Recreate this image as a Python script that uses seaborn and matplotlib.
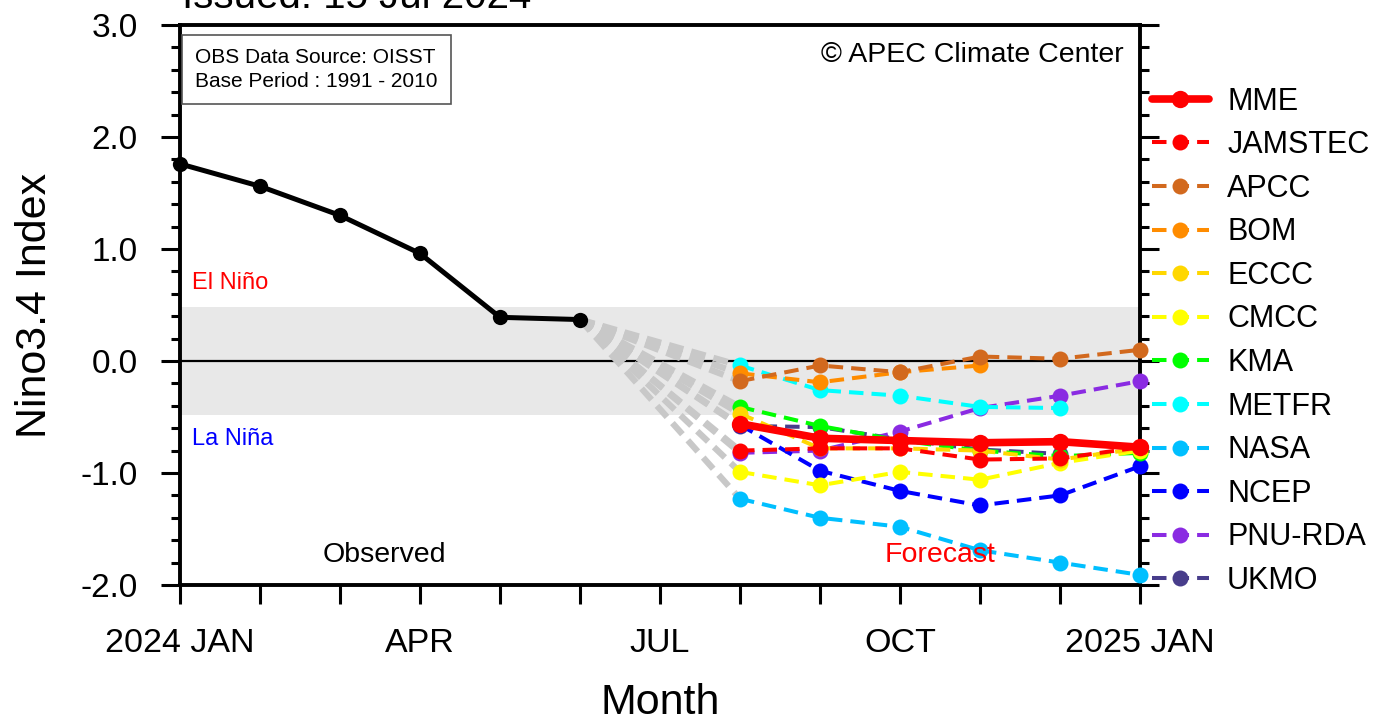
import pandas as pd
import matplotlib
matplotlib.use("Agg")
import matplotlib.pyplot as plt
import seaborn as sns

# months counted from 2024 JAN (0) to 2025 JAN (12)
month_ticks = list(range(13))
month_labels = ["2024 JAN", "", "", "APR", "", "", "JUL", "", "", "OCT", "", "", "2025 JAN"]

obs_x = [0, 1, 2, 3, 4, 5]
obs_vals = [1.76, 1.56, 1.30, 0.96, 0.39, 0.37]

fc_x = [7, 8, 9, 10, 11, 12]

models = ["MME", "JAMSTEC", "APCC", "BOM", "ECCC", "CMCC", "KMA", "METFR",
          "NASA", "NCEP", "PNU-RDA", "UKMO"]
colors = ["#FF0000", "#FF0000", "#D2691E", "#FF8C00", "#FFD700", "#FFFF00",
          "#00FF00", "#00FFFF", "#00BFFF", "#0000FF", "#8A2BE2", "#483D8B"]

MME = [-0.56, -0.69, -0.71, -0.73, -0.72, -0.77]
JAMSTEC = [-0.80, -0.78, -0.78, -0.88, -0.87, -0.77]
APCC = [-0.18, -0.04, -0.10, 0.04, 0.02, 0.10]
BOM = [-0.11, -0.19, -0.10, -0.04]
ECCC = [-0.47, -0.78, -0.78, -0.80, -0.88, -0.78]
CMCC = [-0.99, -1.11, -0.99, -1.06, -0.91, -0.80]
KMA = [-0.41, -0.58, -0.71, -0.80, -0.85, -0.82]
METFR = [-0.04, -0.26, -0.31, -0.41, -0.42]
NASA = [-1.23, -1.40, -1.48, -1.69, -1.80, -1.91]
NCEP = [-0.57, -0.98, -1.16, -1.29, -1.20, -0.94]
PNU_RDA = [-0.82, -0.80, -0.63, -0.42, -0.31, -0.18]
UKMO = [-0.58, -0.59, -0.70, -0.79, -0.83]

series = [MME, JAMSTEC, APCC, BOM, ECCC, CMCC, KMA, METFR, NASA, NCEP, PNU_RDA, UKMO]

sns.set_style("ticks")
plt.rcParams['font.family'] = ['Liberation Sans', 'DejaVu Sans']
plt.rcParams['text.color'] = 'black'
plt.rcParams['axes.labelcolor'] = 'black'
plt.rcParams['xtick.color'] = 'black'
plt.rcParams['ytick.color'] = 'black'

fig = plt.figure(figsize=(13.79, 7.23), dpi=100)
ax = fig.add_axes([180 / 1379, 1 - 585 / 723, 960 / 1379, 560 / 723])

ax.axhspan(-0.48, 0.48, color="#E8E8E8", zorder=0, lw=0)
ax.axhline(0, color="black", lw=1.6, zorder=1)

dash = (0, (3.6, 2.0))

# grey connectors from last observation to first forecast month
for vals in series[1:]:
    sns.lineplot(x=[obs_x[-1], fc_x[0]], y=[obs_vals[-1], vals[0]], ax=ax,
                 color="#C8C8C8", lw=4.5, linestyle=(0, (2.4, 1.3)), zorder=2,
                 clip_on=False)

handles = {}
for name, col, vals in reversed(list(zip(models, colors, series))):
    if name == "MME":
        continue
    sns.lineplot(x=fc_x[:len(vals)], y=vals, ax=ax, color=col, lw=2.9,
                 linestyle=dash, marker="o", markersize=11.5, markeredgewidth=0,
                 zorder=3, clip_on=False, label=name, legend=False)
    handles[name] = ax.lines[-1]

sns.lineplot(x=fc_x, y=MME, ax=ax, color="#FF0000", lw=5.5, marker="o",
             markersize=12.5, markeredgewidth=0, zorder=4, clip_on=False,
             label="MME", legend=False)
handles["MME"] = ax.lines[-1]

sns.lineplot(x=obs_x, y=obs_vals, ax=ax, color="black", lw=3.6, marker="o",
             markersize=11, markeredgewidth=0, zorder=4, clip_on=False, legend=False)

ax.set_xlim(0, 12)
ax.set_ylim(-2.0, 3.0)
ax.set_xticks(month_ticks)
ax.set_xticklabels(month_labels)
ax.set_yticks([-2, -1, 0, 1, 2, 3])
ax.set_yticklabels(["-2.0", "-1.0", "0.0", "1.0", "2.0", "3.0"])
ax.set_yticks([v / 10 for v in range(-20, 31, 2)], minor=True)
ax.tick_params(axis="y", which="major", direction="out", length=13.5, width=2.2,
               labelsize=24, right=True, pad=17)
ax.tick_params(axis="y", which="minor", direction="out", length=6.5, width=2.2, right=True)
ax.tick_params(axis="x", which="major", direction="out", length=14, width=2.2,
               labelsize=24.5, pad=17)
for sp in ax.spines.values():
    sp.set_linewidth(2.8)
    sp.set_color("black")

ax.set_xlabel("Month", fontsize=31, labelpad=17)
ax.set_ylabel("Nino3.4 Index", fontsize=31, labelpad=18)

ax.text(0.15, 0.70, "El Niño", color="#FF0000", fontsize=17, va="center")
ax.text(0.15, -0.70, "La Niña", color="#0000FF", fontsize=17, va="center")
ax.text(2.55, -1.73, "Observed", color="black", fontsize=20.5, ha="center", va="center")
ax.text(9.5, -1.73, "Forecast", color="#FF0000", fontsize=20.5, ha="center", va="center")
ax.text(11.8, 2.73, "© APEC Climate Center", color="black", fontsize=20.5,
        ha="right", va="center")
ax.text(0.19, 2.60, "OBS Data Source: OISST\nBase Period : 1991 - 2010",
        fontsize=15, ha="left", va="center", linespacing=1.35,
        bbox=dict(boxstyle="square,pad=0.62", fc="white", ec="#555555", lw=1.2))

fig.text(182 / 1379, 1 - 8 / 723, "Issued: 15 Jul 2024", fontsize=29,
         ha="left", va="baseline")

ax.legend([handles[m] for m in models], models, loc="upper left",
          bbox_to_anchor=(1.0, 0.912), frameon=False, fontsize=22,
          handlelength=1.85, handletextpad=0.6, labelspacing=0.445,
          borderaxespad=0.0)

fig.savefig("out.png", dpi=100)
